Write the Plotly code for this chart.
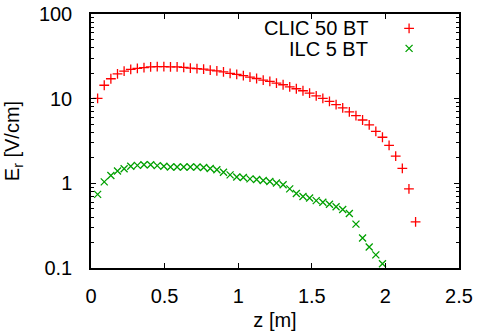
import plotly.graph_objects as go

# z positions [m]
z_clic = [0.045, 0.090, 0.135, 0.180, 0.225, 0.270, 0.315, 0.360, 0.405, 0.450,
          0.495, 0.540, 0.585, 0.630, 0.675, 0.720, 0.765, 0.810, 0.855, 0.900,
          0.945, 0.990, 1.035, 1.080, 1.125, 1.170, 1.215, 1.260, 1.305, 1.350,
          1.395, 1.440, 1.485, 1.530, 1.575, 1.620, 1.665, 1.710, 1.755, 1.800,
          1.845, 1.890, 1.935, 1.980, 2.025, 2.070, 2.115, 2.160, 2.205]
er_clic = [10.1, 14.4, 17.2, 19.6, 21.2, 22.2, 22.8, 23.2, 23.7, 23.9,
           23.9, 23.7, 23.7, 23.4, 22.9, 22.6, 22.3, 21.7, 21.3, 20.7,
           19.9, 19.4, 18.7, 18.0, 17.3, 16.6, 16.0, 15.3, 14.6, 13.8,
           13.1, 12.4, 11.6, 10.8, 10.1, 9.3, 8.5, 7.8, 7.0, 6.3,
           5.6, 4.9, 4.1, 3.5, 2.8, 2.1, 1.5, 0.86, 0.35]

z_ilc = [0.045, 0.090, 0.135, 0.180, 0.225, 0.270, 0.315, 0.360, 0.405, 0.450,
         0.495, 0.540, 0.585, 0.630, 0.675, 0.720, 0.765, 0.810, 0.855, 0.900,
         0.945, 0.990, 1.035, 1.080, 1.125, 1.170, 1.215, 1.260, 1.305, 1.350,
         1.395, 1.440, 1.485, 1.530, 1.575, 1.620, 1.665, 1.710, 1.755, 1.800,
         1.845, 1.890, 1.935, 1.980]
er_ilc = [0.74, 1.04, 1.24, 1.40, 1.49, 1.59, 1.63, 1.66, 1.66, 1.62,
          1.59, 1.56, 1.56, 1.56, 1.56, 1.56, 1.54, 1.50, 1.45, 1.35,
          1.26, 1.19, 1.17, 1.13, 1.11, 1.08, 1.05, 1.01, 0.96, 0.86,
          0.76, 0.70, 0.67, 0.625, 0.597, 0.565, 0.53, 0.49, 0.44, 0.33,
          0.226, 0.177, 0.143, 0.112]

series_names = ["CLIC 50 BT", "ILC 5 BT"]
x_ticks = [0, 0.5, 1, 1.5, 2, 2.5]
x_tick_text = ["0", "0.5", "1", "1.5", "2", "2.5"]
y_ticks = [0.1, 1, 10, 100]
y_tick_text = ["0.1", "1", "10", "100"]

FONT = "Liberation Sans, Arial, sans-serif"
RED = "#ff0000"
GREEN = "#00a000"

fig = go.Figure()
fig.add_trace(go.Scatter(
    x=z_clic, y=er_clic, mode="markers", name=" ",
    marker=dict(symbol="cross-thin-open", size=7, color=RED,
                line=dict(color=RED, width=1.3)),
))
fig.add_trace(go.Scatter(
    x=z_ilc, y=er_ilc, mode="markers", name=" ",
    marker=dict(symbol="x-thin-open", size=7, color=GREEN,
                line=dict(color=GREEN, width=1.3)),
))

axis_common = dict(
    showline=True, linecolor="black", linewidth=1.5, mirror="ticks",
    ticks="inside", ticklen=5, tickwidth=1, tickcolor="black",
    showgrid=False, zeroline=False,
    tickfont=dict(family=FONT, size=20, color="black"),
)

fig.update_xaxes(
    range=[0, 2.5], tickvals=x_ticks, ticktext=x_tick_text,
    title=dict(text="z [m]", font=dict(family=FONT, size=20, color="black"), standoff=14),
    ticklabelstandoff=9,
    **axis_common,
)
fig.update_yaxes(
    type="log", range=[-1, 2], tickvals=y_ticks, ticktext=y_tick_text,
    title=dict(text="E<sub>r</sub> [V/cm]", font=dict(family=FONT, size=20, color="black"), standoff=14),
    ticklabelstandoff=13,
    minor=dict(ticks="inside", ticklen=3, tickcolor="black", dtick="D1", showgrid=False),
    **axis_common,
)

# legend text (gnuplot style: text drawn left of the sample)
fig.add_annotation(x=0.758, y=1, xref="paper", yref="paper", xanchor="right", yanchor="middle",
                   yshift=-14, text=series_names[0], showarrow=False,
                   font=dict(family=FONT, size=20, color="black"))
fig.add_annotation(x=0.758, y=1, xref="paper", yref="paper", xanchor="right", yanchor="middle",
                   yshift=-35, text=series_names[1], showarrow=False,
                   font=dict(family=FONT, size=20, color="black"))

fig.update_layout(
    width=478, height=331,
    margin=dict(l=91, r=19, t=14, b=63, autoexpand=False),
    paper_bgcolor="white", plot_bgcolor="white",
    showlegend=True,
    legend=dict(x=0.810, y=1.002, xanchor="left", yanchor="top",
                bgcolor="rgba(0,0,0,0)", font=dict(family=FONT, size=13),
                itemwidth=30, tracegroupgap=0),
)

fig.write_html("out.html")
